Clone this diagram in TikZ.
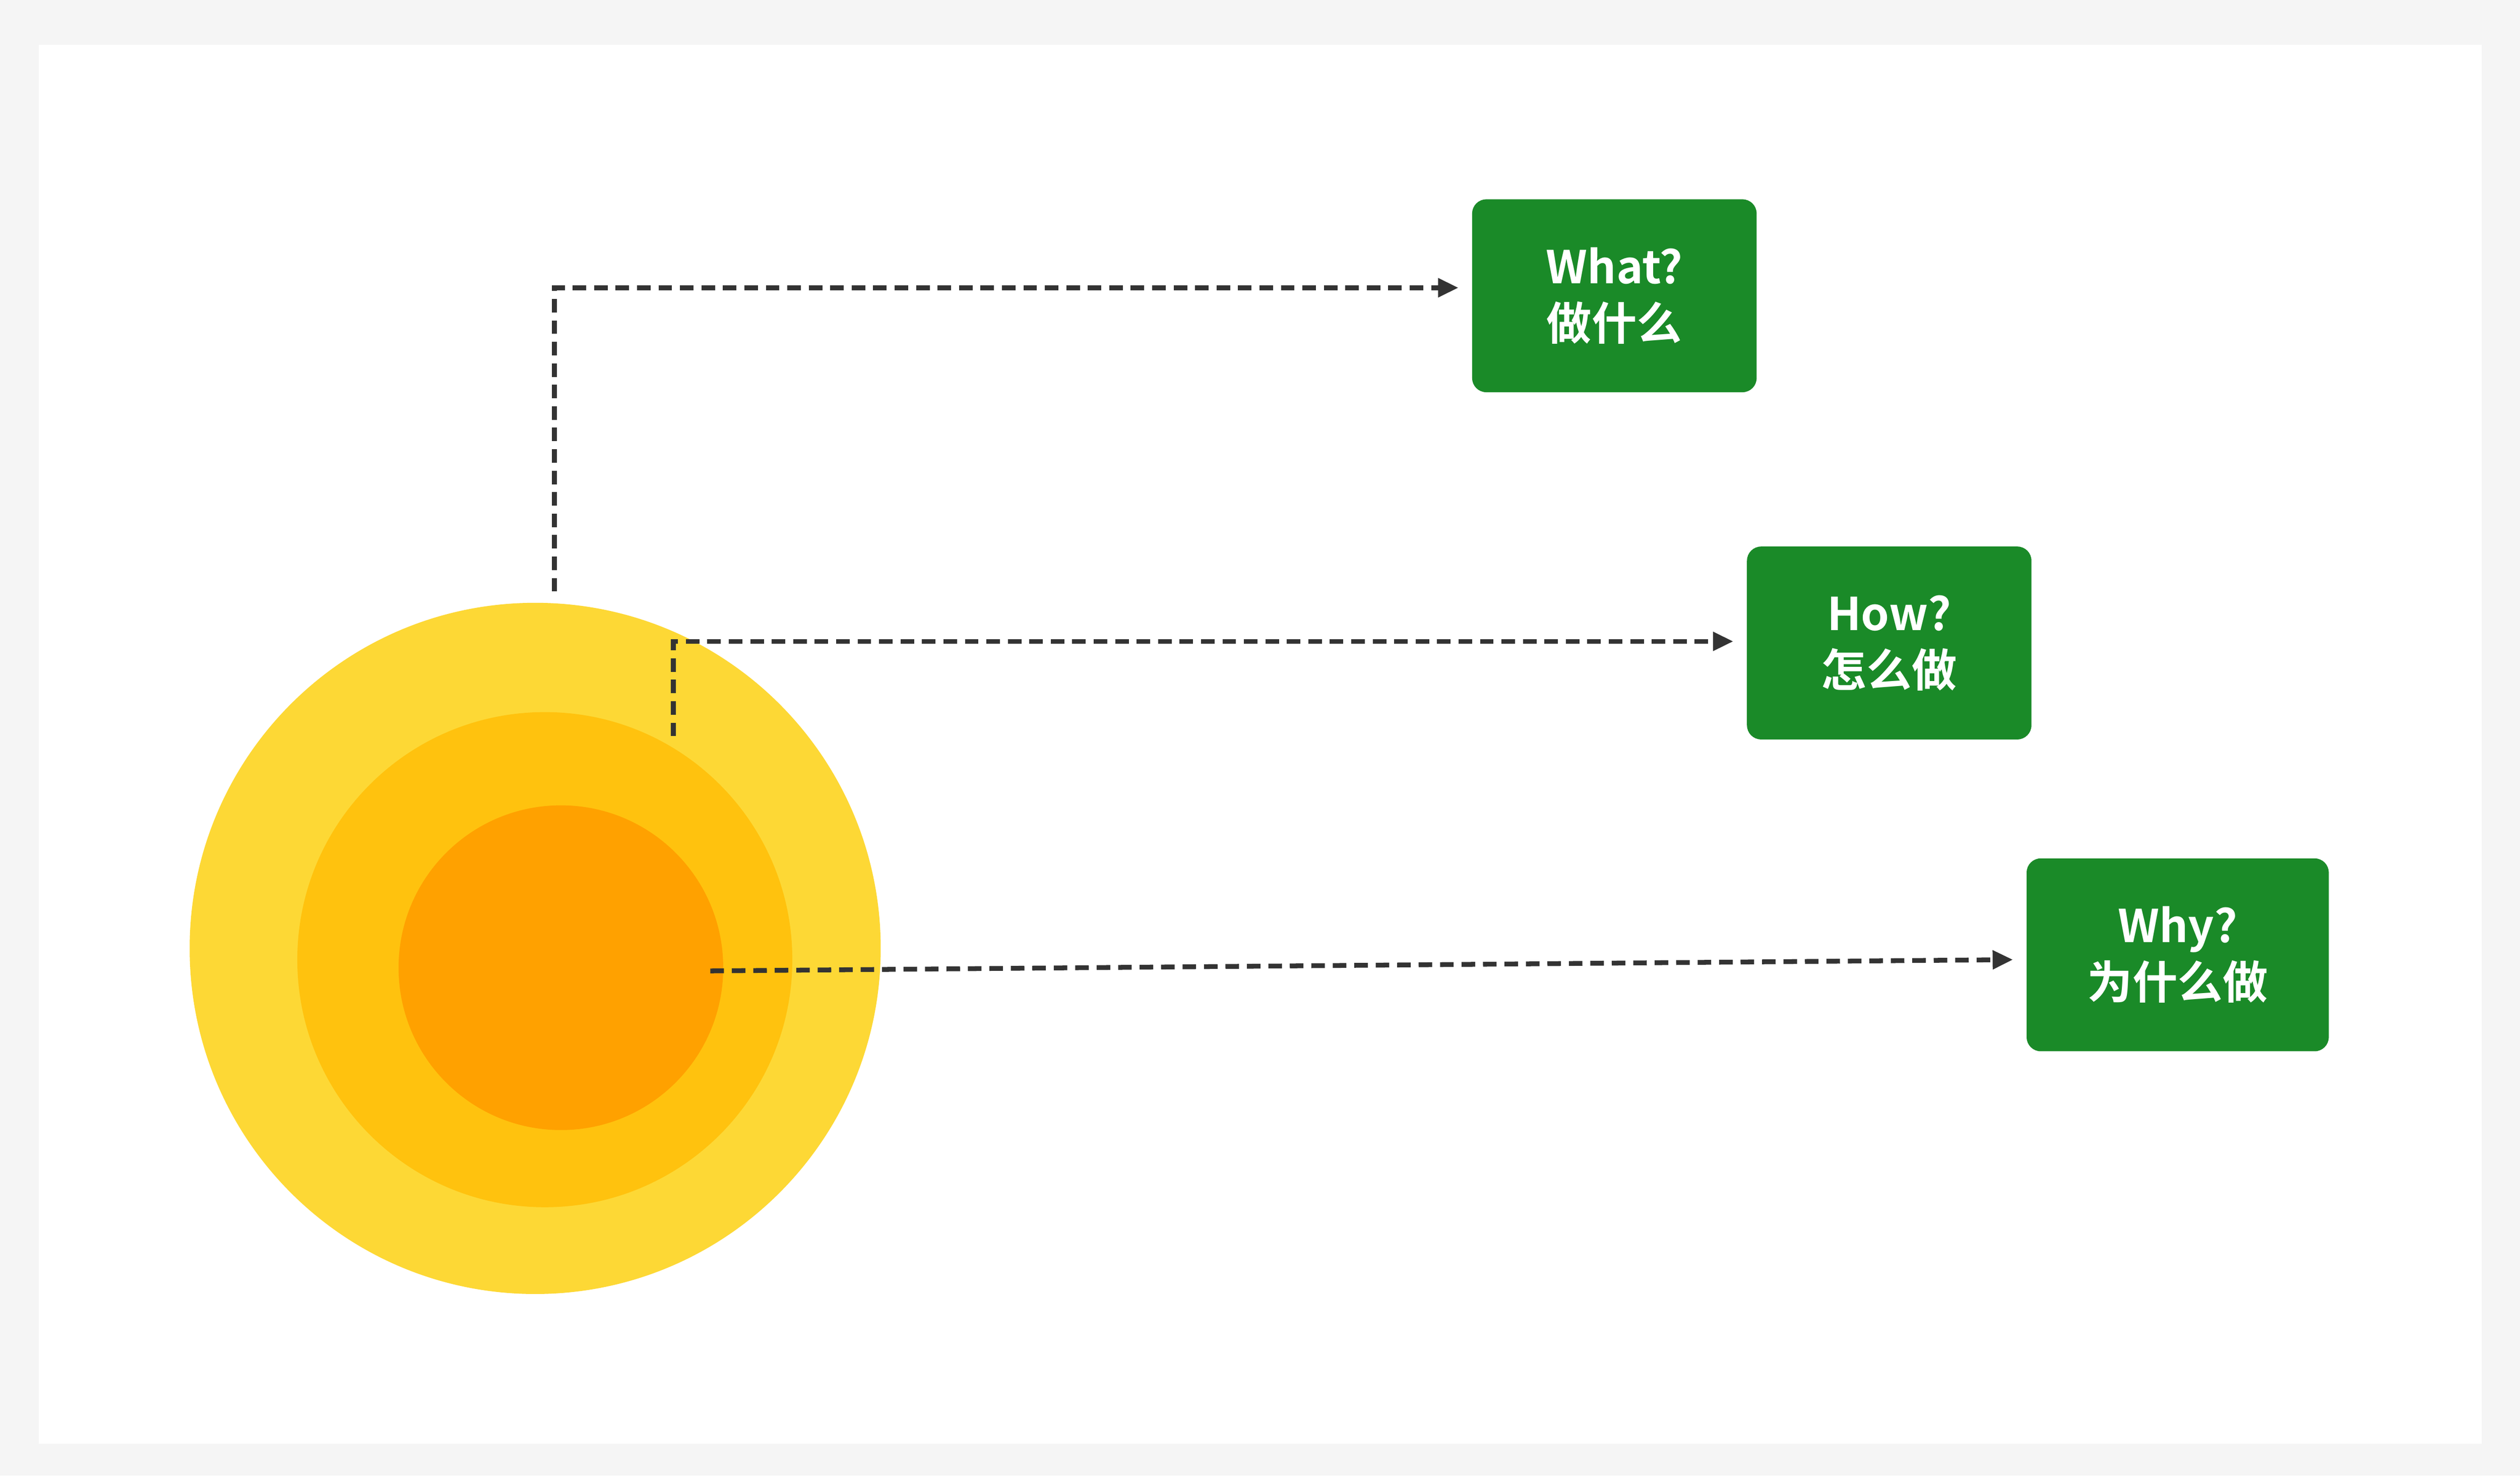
\documentclass[tikz,border=0pt]{standalone}
\usepackage{fontspec}
\newfontfamily\cjk{Noto Sans CJK SC}[BoldFont={* Bold}]
\usetikzlibrary{arrows.meta}
\definecolor{bxg}{HTML}{1A8A28}
\definecolor{c1}{HTML}{FDD835}
\definecolor{c2}{HTML}{FFC20E}
\definecolor{c3}{HTML}{FFA100}
\definecolor{ln}{HTML}{333333}
\begin{document}
\begin{tikzpicture}[x=0.1cm,y=-0.1cm,
  box/.style={fill=bxg,rounded corners=25pt,inner sep=0pt,text=white,font=\cjk\bfseries\fontsize{80}{100}\selectfont,align=center},
  conn/.style={draw=ln,line width=8.5pt,dash pattern=on 24pt off 14pt,-{Triangle[length=36pt,width=32pt]}}]
\useasboundingbox (0,0) rectangle (1568,918);
\fill[black!4] (0,0) rectangle (1568,918);
\fill[white] (24,28) rectangle (1544,898);
\fill[c1] (333,590) circle (215);
\fill[c2] (339,597) circle (154);
\fill[c3] (349,602) circle (101);
\node[box,minimum width=177*0.1cm,minimum height=120*0.1cm] (what) at (1004.5,184) {What?\\做什么};
\node[box,minimum width=177*0.1cm,minimum height=120*0.1cm] (how) at (1175.5,400) {How?\\怎么做};
\node[box,minimum width=188*0.1cm,minimum height=120*0.1cm] (why) at (1355,594) {Why?\\为什么做};
\coordinate (s1) at (345,368);
\coordinate (s2) at (419,458);
\coordinate (s3) at (442,604);
\draw[conn] (s1) |- ([xshift=-24pt]what.west |- 0,179);
\draw[conn] (s2) |- ([xshift=-24pt]how.west |- 0,399);
\draw[conn] (s3) -- ([xshift=-24pt]why.west |- 0,597);
\end{tikzpicture}
\end{document}
